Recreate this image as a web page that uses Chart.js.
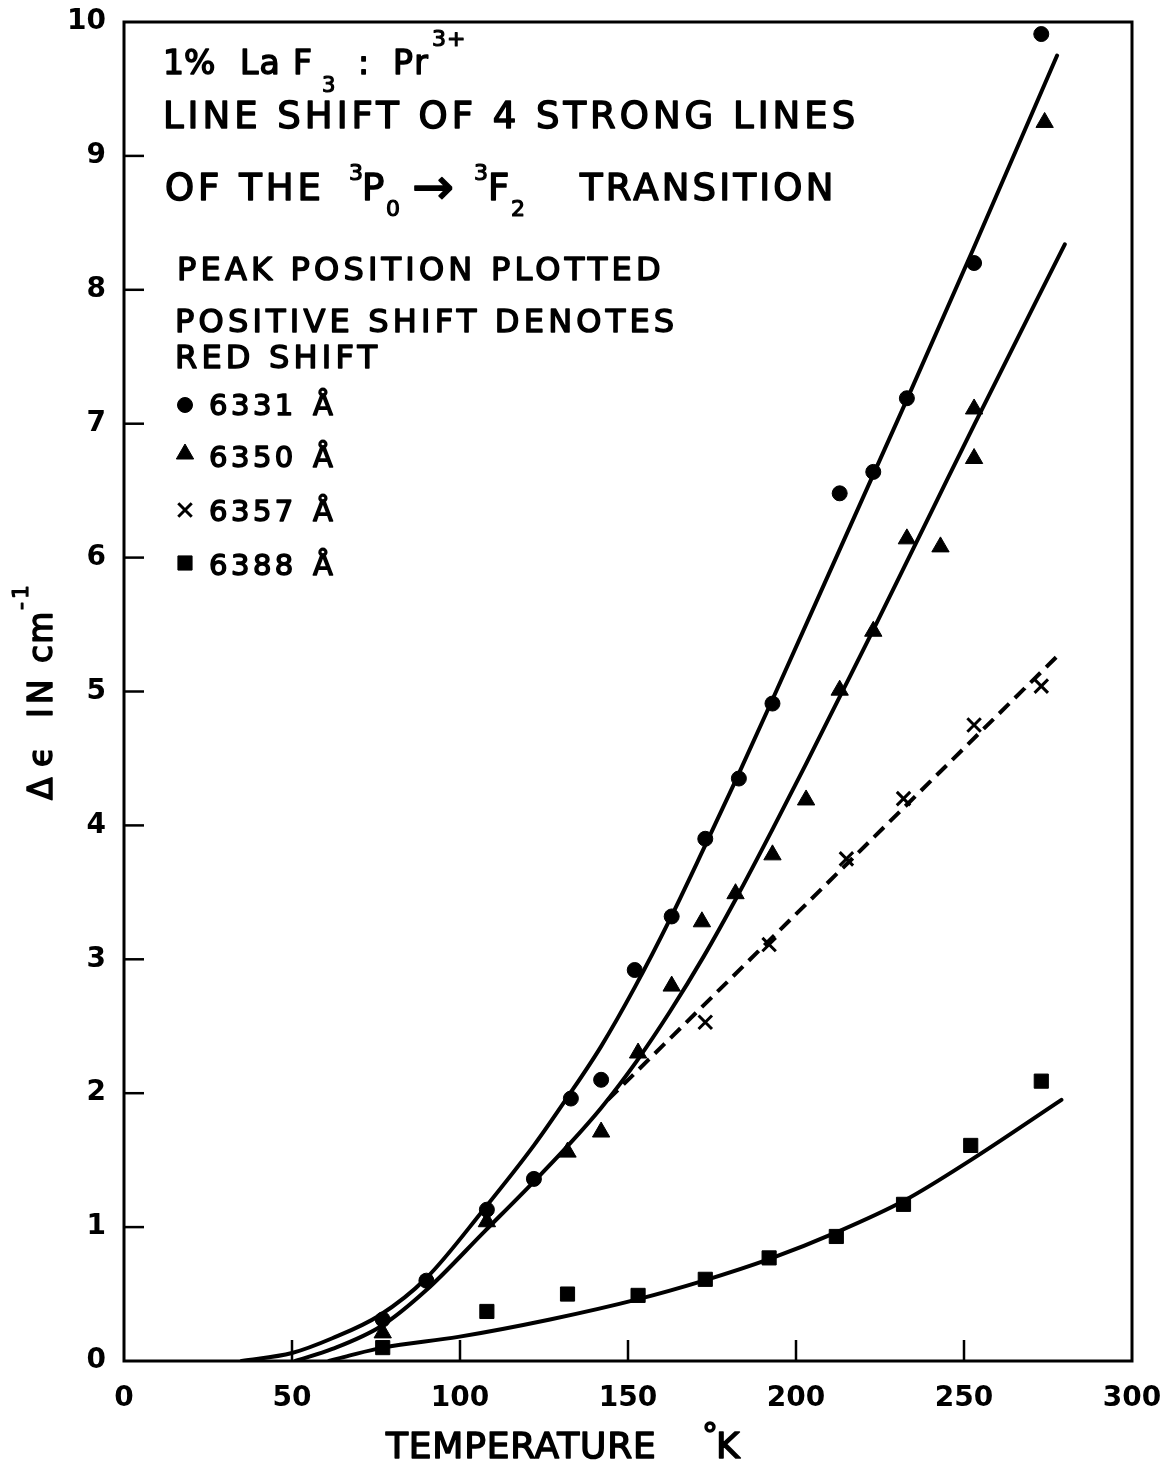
<!DOCTYPE html>
<html>
<head>
<meta charset="utf-8">
<script src="https://cdn.jsdelivr.net/npm/chart.js@4.4.1/dist/chart.umd.min.js"></script>
<style>
  html, body { margin: 0; padding: 0; background: #fff; }
  #wrap { width: 1162px; height: 1464px; }
</style>
</head>
<body>
<div id="wrap"><canvas id="c" width="1162" height="1464"></canvas></div>
<script>
const FONT = '"DejaVu Sans", sans-serif';

// Measured peak shifts (cm^-1) against temperature (K)
// 6331 Å line (filled circles)
const temp6331  = [77, 90, 108, 122, 133, 142, 152, 163, 173, 183, 193, 213, 223, 233, 253, 273];
const shift6331 = [0.31, 0.60, 1.13, 1.36, 1.96, 2.10, 2.92, 3.32, 3.90, 4.35, 4.91, 6.48, 6.64, 7.19, 8.20, 9.91];
// 6350 Å line (filled triangles)
const temp6350  = [77, 108, 132, 142, 153, 163, 172, 182, 193, 203, 213, 223, 233, 243, 253, 253, 274];
const shift6350 = [0.21, 1.04, 1.56, 1.71, 2.30, 2.80, 3.28, 3.49, 3.78, 4.19, 5.01, 5.45, 6.14, 6.08, 6.74, 7.11, 9.25];
// 6357 Å line (crosses)
const temp6357  = [173, 192, 215, 232, 253, 273];
const shift6357 = [2.53, 3.11, 3.75, 4.20, 4.75, 5.04];
// 6388 Å line (filled squares)
const temp6388  = [77, 108, 132, 153, 173, 192, 212, 232, 252, 273];
const shift6388 = [0.10, 0.37, 0.50, 0.49, 0.61, 0.77, 0.93, 1.17, 1.61, 2.09];

// Hand-drawn smooth curves through each set
const curveT6331 = [35, 50, 62, 76, 90, 107, 122, 132, 142, 152, 162.5, 172.6, 182.3, 193, 213, 233, 252.5, 277.7];
const curveV6331 = [0, 0.06, 0.17, 0.34, 0.62, 1.13, 1.61, 1.97, 2.35, 2.79, 3.30, 3.83, 4.35, 4.94, 6.06, 7.18, 8.29, 9.75];
const curveT6350 = [51, 62, 76.5, 90, 107.4, 122, 132.2, 142, 152.6, 162.5, 172.5, 182.3, 193, 203, 213, 223, 242, 253, 280];
const curveV6350 = [0, 0.09, 0.26, 0.53, 0.97, 1.34, 1.61, 1.89, 2.24, 2.61, 3.02, 3.46, 3.97, 4.46, 4.96, 5.46, 6.43, 6.99, 8.34];
const curveT6357 = [144, 278];
const curveV6357 = [1.95, 5.27];
const curveT6388 = [61, 67, 77, 99.5, 126.8, 152.8, 172.6, 192, 212, 232.4, 252, 279];
const curveV6388 = [0, 0.04, 0.10, 0.18, 0.31, 0.46, 0.60, 0.76, 0.96, 1.20, 1.50, 1.95];

// Axis ranges and tick steps
const xRange = [0, 300], xStep = 50;
const yRange = [0, 10],  yStep = 1;

const pts = (xs, ys) => xs.map((x, i) => ({ x, y: ys[i] }));

function curve(xs, ys, dashed) {
  return {
    data: pts(xs, ys), showLine: true, pointRadius: 0, pointHoverRadius: 0,
    borderColor: '#000', borderWidth: 4,
    borderDash: dashed ? [14, 8] : [], borderCapStyle: dashed ? 'butt' : 'round',
    cubicInterpolationMode: 'monotone', fill: false
  };
}
function marks(xs, ys, m) {
  return {
    data: pts(xs, ys), showLine: false, pointStyle: m.pointStyle, pointRadius: m.radius,
    pointHoverRadius: m.radius, backgroundColor: '#000', borderColor: '#000',
    borderWidth: m.borderWidth
  };
}

const markerStyles = {
  c: { pointStyle: 'circle',   radius: 7.5, borderWidth: 1 },
  t: { pointStyle: 'triangle', radius: 10,  borderWidth: 1 },
  x: { pointStyle: 'crossRot', radius: 9.5, borderWidth: 3 },
  s: { pointStyle: 'rect',     radius: 10,  borderWidth: 1 }
};

// Lettering: regular face with a thin outline for a pen-drawn weight
function txt(ctx, s, x, y, size, spacing, weight) {
  ctx.save();
  ctx.font = size + 'px ' + FONT;
  ctx.letterSpacing = (spacing || 0) + 'px';
  ctx.textAlign = 'left';
  ctx.textBaseline = 'alphabetic';
  ctx.fillStyle = '#000';
  ctx.strokeStyle = '#000';
  ctx.lineJoin = 'round';
  ctx.lineWidth = weight === undefined ? 1.5 : weight;
  ctx.fillText(s, x, y);
  if (ctx.lineWidth > 0) ctx.strokeText(s, x, y);
  ctx.restore();
}

const paper = {
  id: 'paper',
  beforeDraw(chart) {
    const c = chart.ctx;
    c.save(); c.fillStyle = '#fff'; c.fillRect(0, 0, chart.width, chart.height); c.restore();
  }
};

// Plot frame with inward-pointing tick marks
const frame = {
  id: 'frame',
  afterDatasetsDraw(chart) {
    const { ctx, chartArea: a, scales: { x, y } } = chart;
    ctx.save();
    ctx.strokeStyle = '#000';
    ctx.lineWidth = 3;
    ctx.strokeRect(a.left, a.top, a.right - a.left, a.bottom - a.top);
    ctx.lineWidth = 2.5;
    x.ticks.forEach(t => {
      if (t.value <= x.min || t.value >= x.max) return;
      const px = x.getPixelForValue(t.value);
      ctx.beginPath(); ctx.moveTo(px, a.bottom); ctx.lineTo(px, a.bottom - 21); ctx.stroke();
    });
    y.ticks.forEach(t => {
      if (t.value <= y.min || t.value >= y.max) return;
      const py = y.getPixelForValue(t.value);
      ctx.beginPath(); ctx.moveTo(a.left, py); ctx.lineTo(a.left + 20, py); ctx.stroke();
    });
    ctx.restore();
  }
};

// Caption block, key and axis titles
const notes = {
  id: 'notes',
  afterDraw(chart) {
    const ctx = chart.ctx;
    // heading
    txt(ctx, '1%', 163, 74, 33, 0);
    txt(ctx, 'La', 240, 74, 33, 1);
    txt(ctx, 'F', 293, 74, 33, 0);
    txt(ctx, '3', 322, 92, 21, 0, 1.2);
    txt(ctx, ':', 358, 74, 33, 0);
    txt(ctx, 'Pr', 393, 74, 33, 2);
    txt(ctx, '3+', 432, 46, 22, 1, 1.2);

    txt(ctx, 'LINE SHIFT OF 4 STRONG LINES', 163, 128, 37, 4);

    txt(ctx, 'OF THE', 165, 200, 37, 4);
    txt(ctx, '3', 349, 180, 22, 0, 1.2);
    txt(ctx, 'P', 362, 200, 37, 0);
    txt(ctx, '0', 386, 216, 22, 0, 1.2);
    txt(ctx, '\u2192', 412, 204, 50, 0);
    txt(ctx, '3', 474, 180, 22, 0, 1.2);
    txt(ctx, 'F', 488, 200, 37, 0);
    txt(ctx, '2', 511, 216, 22, 0, 1.2);
    txt(ctx, 'TRANSITION', 580, 200, 37, 3.2);

    txt(ctx, 'PEAK POSITION PLOTTED', 177, 280, 32, 4.2);
    txt(ctx, 'POSITIVE SHIFT DENOTES', 175, 332, 32, 4.2);
    txt(ctx, 'RED SHIFT', 175, 368, 32, 4.2);

    // key
    const key = [
      { m: markerStyles.c, label: '6331', y: 405, base: 415 },
      { m: markerStyles.t, label: '6350', y: 454, base: 467 },
      { m: markerStyles.x, label: '6357', y: 510, base: 521 },
      { m: markerStyles.s, label: '6388', y: 563, base: 575 }
    ];
    key.forEach(k => {
      ctx.save();
      ctx.fillStyle = '#000'; ctx.strokeStyle = '#000';
      ctx.lineWidth = k.m.borderWidth;
      Chart.helpers.drawPoint(ctx, { pointStyle: k.m.pointStyle, radius: k.m.radius, borderWidth: k.m.borderWidth, rotation: 0 }, 185, k.y);
      ctx.restore();
      txt(ctx, k.label, 209, k.base, 29, 3.5);
      txt(ctx, '\u00C5', 313, k.base, 29, 0);
    });

    // x-axis title
    txt(ctx, 'TEMPERATURE', 386, 1458, 36, 0.8);
    txt(ctx, '\u00B0', 702, 1446, 32, 0);
    txt(ctx, 'K', 716, 1458, 36, 0);

    // y-axis title (reads bottom to top)
    ctx.save();
    ctx.translate(52, 800);
    ctx.rotate(-Math.PI / 2);
    txt(ctx, '\u0394', 0, 0, 33, 0);
    txt(ctx, '\u03F5', 33, 0, 33, 0);
    txt(ctx, 'IN', 82, 0, 33, 4);
    txt(ctx, 'cm', 137, 0, 33, 1);
    txt(ctx, '-1', 190, -24, 22, 3, 1.2);
    ctx.restore();
  }
};

new Chart(document.getElementById('c'), {
  type: 'scatter',
  data: {
    datasets: [
      curve(curveT6331, curveV6331),
      curve(curveT6350, curveV6350),
      curve(curveT6357, curveV6357, true),
      curve(curveT6388, curveV6388),
      marks(temp6331, shift6331, markerStyles.c),
      marks(temp6350, shift6350, markerStyles.t),
      marks(temp6357, shift6357, markerStyles.x),
      marks(temp6388, shift6388, markerStyles.s)
    ]
  },
  options: {
    responsive: false,
    devicePixelRatio: 1,
    animation: false,
    events: [],
    layout: { padding: { left: 0, top: 22, right: 30, bottom: 0 } },
    plugins: { legend: { display: false }, tooltip: { enabled: false }, title: { display: false } },
    scales: {
      x: {
        type: 'linear', min: xRange[0], max: xRange[1],
        grid: { display: false }, border: { display: false },
        ticks: { stepSize: xStep, color: '#000', padding: 13, maxRotation: 0,
                 font: { family: 'DejaVu Sans', size: 28, weight: 'bold' } },
        afterFit(s) { s.height = 103; s.paddingLeft = 0; s.paddingRight = 0; }
      },
      y: {
        type: 'linear', min: yRange[0], max: yRange[1],
        grid: { display: false }, border: { display: false },
        ticks: { stepSize: yStep, color: '#000', padding: 10,
                 font: { family: 'DejaVu Sans', size: 28, weight: 'bold' } },
        afterFit(s) { s.width = 124; s.paddingTop = 0; s.paddingBottom = 0; }
      }
    }
  },
  plugins: [paper, frame, notes]
});
</script>
</body>
</html>
